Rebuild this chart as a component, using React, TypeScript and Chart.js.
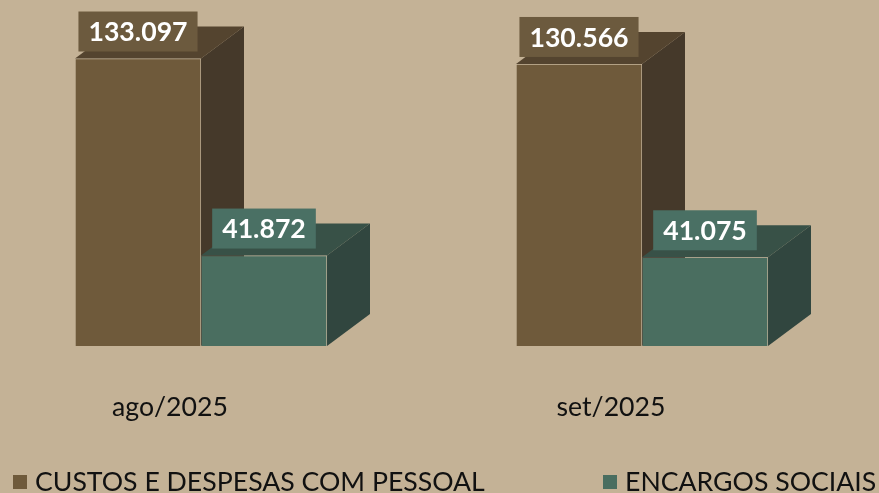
import React, { useEffect, useRef } from 'react';
import { Chart, registerables } from 'chart.js';
Chart.register(...registerables);

const categories = ['ago/2025', 'set/2025'];
const seriesNames = ['CUSTOS E DESPESAS COM PESSOAL', 'ENCARGOS SOCIAIS'];
const custosPessoal = [133097, 130566];
const encargosSociais = [41872, 41075];

const BG = '#C4B296';
const palette = [
  { front: '#6F5A3B', side: '#45392A', top: '#54442F', label: '#6C5A3E' },
  { front: '#4A6E60', side: '#31463F', top: '#385147', label: '#4A7064' },
];
const DX = 43;
const DY = 32;
const FONT = 'Lato, "Open Sans", sans-serif';
const FS = 26.67;

function fmt(v: number): string {
  return String(Math.round(v)).replace(/\B(?=(\d{3})+(?!\d))/g, '.');
}

const threeD = {
  id: 'threeD',
  beforeDraw(chart: any) {
    const ctx = chart.ctx;
    ctx.save();
    ctx.fillStyle = BG;
    ctx.fillRect(0, 0, chart.width, chart.height);
    ctx.restore();
  },
  beforeDatasetsDraw(chart: any) {
    const ctx = chart.ctx;
    ctx.save();
    chart.data.datasets.forEach((_ds: any, di: number) => {
      const meta = chart.getDatasetMeta(di);
      const p = palette[di];
      meta.data.forEach((bar: any) => {
        const { x, y, base, width } = bar.getProps(['x', 'y', 'base', 'width'], true);
        const l = x - width / 2;
        const r = x + width / 2;
        ctx.fillStyle = p.side;
        ctx.beginPath();
        ctx.moveTo(r, y);
        ctx.lineTo(r + DX, y - DY);
        ctx.lineTo(r + DX, base - DY);
        ctx.lineTo(r, base);
        ctx.closePath();
        ctx.fill();
        ctx.fillStyle = p.top;
        ctx.beginPath();
        ctx.moveTo(l, y);
        ctx.lineTo(l + DX, y - DY);
        ctx.lineTo(r + DX, y - DY);
        ctx.lineTo(r, y);
        ctx.closePath();
        ctx.fill();
      });
    });
    ctx.restore();
  },
  afterDatasetsDraw(chart: any) {
    const ctx = chart.ctx;
    ctx.save();
    ctx.font = `bold ${FS}px ${FONT}`;
    ctx.textAlign = 'center';
    ctx.textBaseline = 'middle';
    chart.data.datasets.forEach((ds: any, di: number) => {
      const meta = chart.getDatasetMeta(di);
      const p = palette[di];
      meta.data.forEach((bar: any, i: number) => {
        const { x, y } = bar.getProps(['x', 'y'], true);
        const text = fmt(ds.data[i]);
        const w = ctx.measureText(text).width + 20;
        const h = 40;
        const cy = y - 27;
        ctx.fillStyle = p.label;
        ctx.fillRect(x - w / 2, cy - h / 2, w, h);
        ctx.fillStyle = '#FFFFFF';
        ctx.fillText(text, x, cy + 1);
      });
    });
    ctx.restore();
  },
  afterDraw(chart: any) {
    const ctx = chart.ctx;
    ctx.save();
    ctx.font = `${FS}px ${FONT}`;
    ctx.textAlign = 'left';
    ctx.textBaseline = 'middle';
    const starts = [13, 603];
    chart.data.datasets.forEach((ds: any, di: number) => {
      const x0 = starts[di];
      const cy = 482;
      ctx.fillStyle = palette[di].front;
      ctx.fillRect(x0, cy - 7, 14, 14);
      ctx.fillStyle = '#111111';
      ctx.fillText(ds.label, x0 + 22, cy);
    });
    ctx.restore();
  },
};

export default function App() {
  const ref = useRef<HTMLCanvasElement | null>(null);
  useEffect(() => {
    document.body.style.margin = '0';
    document.body.style.background = BG;
    const canvas = ref.current;
    if (!canvas) return;
    const chart = new Chart(canvas, {
      type: 'bar',
      data: {
        labels: categories,
        datasets: [
          {
            label: seriesNames[0],
            data: custosPessoal,
            backgroundColor: palette[0].front,
            borderColor: 'rgba(255,255,255,0.08)',
            borderWidth: 1,
            clip: false,
          },
          {
            label: seriesNames[1],
            data: encargosSociais,
            backgroundColor: palette[1].front,
            borderColor: 'rgba(255,255,255,0.08)',
            borderWidth: 1,
            clip: false,
          },
        ],
      },
      options: {
        responsive: false,
        animation: false,
        devicePixelRatio: 1,
        layout: { padding: { top: 22, left: 201, right: 237, bottom: 0 } },
        datasets: { bar: { barThickness: 126 } } as any,
        plugins: { legend: { display: false }, tooltip: { enabled: false } },
        scales: {
          x: {
            offset: false,
            grid: { display: false, drawTicks: false },
            border: { display: false },
            afterFit: (s: any) => {
              s.height = 147;
            },
            ticks: {
              autoSkip: false,
              maxRotation: 0,
              labelOffset: -31,
              padding: 45,
              color: '#111111',
              font: { family: FONT, size: FS },
            },
          },
          y: {
            display: false,
            min: 0,
            max: 150000,
          },
        },
      } as any,
      plugins: [threeD],
    });
    return () => chart.destroy();
  }, []);
  return <canvas ref={ref} width={879} height={493} style={{ display: 'block' }} />;
}
